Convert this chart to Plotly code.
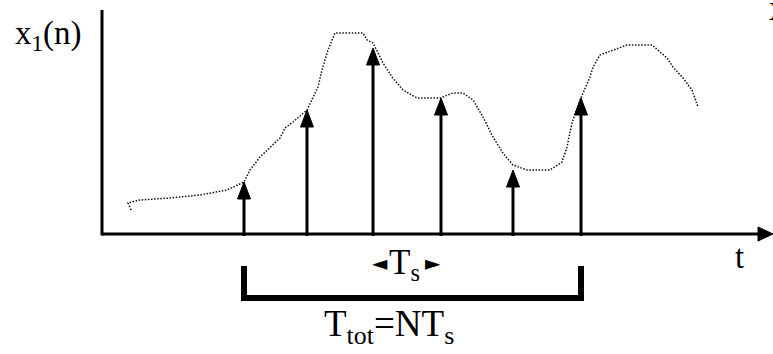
import plotly.graph_objects as go

# ---- data (time t, amplitude) ----
# samples of x1(n): sample instants and sampled amplitudes
sample_t = [142, 205, 271, 339, 411, 479]
sample_amp = [52, 124, 186, 136, 64, 136]

# underlying continuous signal (dotted trace)
curve_t = [29, 26, 38, 68, 98, 125, 142, 148, 158, 168, 178, 183, 191, 205, 210,
           216, 220, 226, 233, 261, 265, 271, 281, 290, 301, 315, 338, 351, 361,
           371, 381, 391, 401, 411, 425, 448, 460, 465, 470, 478, 488, 491, 498,
           511, 525, 550, 565, 571, 581, 590, 596]
curve_amp = [24, 31, 34, 36, 39, 44, 52, 64, 77, 87, 96, 106, 112, 124, 134,
             147, 164, 184, 201, 201, 194, 191, 171, 157, 144, 136, 136, 141, 141,
             134, 117, 97, 81, 69, 64, 64, 72, 87, 111, 134, 157, 167, 179,
             184, 189, 189, 176, 167, 156, 144, 127]

# axis extents
t_axis_end = 671
amp_axis_top = 224

# ---- style constants ----
FONT = "Liberation Serif, Times New Roman, serif"
HEAD_LEN = 17
HEAD_HALF = 6.5
BRACKET_TOP = -32
BRACKET_BOT = -64

fig = go.Figure()

# dotted continuous signal
fig.add_trace(go.Scatter(x=curve_t, y=curve_amp, mode="lines",
                         line=dict(color="#111", width=1.5, dash="1.5px,1.6px"),
                         hoverinfo="skip", showlegend=False))

# stems
sx, sy, hx, hy = [], [], [], []
for t, a in zip(sample_t, sample_amp):
    sx += [t, t, None]
    sy += [-2, a - HEAD_LEN + 1, None]
    hx += [t - HEAD_HALF, t + HEAD_HALF, t, t - HEAD_HALF, None]
    hy += [a - HEAD_LEN, a - HEAD_LEN, a, a - HEAD_LEN, None]
fig.add_trace(go.Scatter(x=sx, y=sy, mode="lines", line=dict(color="black", width=3),
                         hoverinfo="skip", showlegend=False))
fig.add_trace(go.Scatter(x=hx, y=hy, mode="lines", fill="toself", fillcolor="black",
                         line=dict(color="black", width=1),
                         hoverinfo="skip", showlegend=False))

# axes
fig.add_trace(go.Scatter(x=[0, 0, None, 0, t_axis_end - 14],
                         y=[amp_axis_top, -1.5, None, 0, 0], mode="lines",
                         line=dict(color="black", width=3),
                         hoverinfo="skip", showlegend=False))
fig.add_trace(go.Scatter(x=[t_axis_end - 15, t_axis_end, t_axis_end - 15, t_axis_end - 15],
                         y=[7, 0, -7, 7], mode="lines", fill="toself", fillcolor="black",
                         line=dict(color="black", width=1),
                         hoverinfo="skip", showlegend=False))

# total-duration bracket
t0, t1 = sample_t[0], sample_t[-1]
fig.add_trace(go.Scatter(x=[t0, t0, t1, t1], y=[BRACKET_TOP, BRACKET_BOT, BRACKET_BOT, BRACKET_TOP],
                         mode="lines", line=dict(color="black", width=6),
                         hoverinfo="skip", showlegend=False))

def txt(x, y, s, size=33, xanchor="left", yanchor="middle", family=FONT):
    fig.add_annotation(x=x, y=y, xref="x", yref="y", text=s, showarrow=False,
                       xanchor=xanchor, yanchor=yanchor,
                       font=dict(family=family, size=size, color="black"))

txt(-89, 199, "x<sub>1</sub>(n)")
txt(637, -23, "t", xanchor="center")
txt(285, -30, "T<sub>s</sub>", size=35)
txt(380 - 102, 234 - 263, "◄", size=20, xanchor="center", family="DejaVu Sans")
txt(433 - 102, 234 - 263, "►", size=20, xanchor="center", family="DejaVu Sans")
txt(287, -92, "T<sub>tot</sub>=NT<sub>s</sub>", size=37, xanchor="center")
txt(665, 224, "x<sub>2</sub>(n)", size=35)

fig.update_layout(width=773, height=354, autosize=False,
                  margin=dict(l=0, r=0, t=0, b=0),
                  paper_bgcolor="white", plot_bgcolor="white",
                  xaxis=dict(range=[-102, 671], visible=False, fixedrange=True),
                  yaxis=dict(range=[-120, 234], visible=False, fixedrange=True),
                  showlegend=False)

fig.write_html("out.html", config={"displayModeBar": False},
               post_script="document.body.style.margin='0';document.body.style.padding='0';")
